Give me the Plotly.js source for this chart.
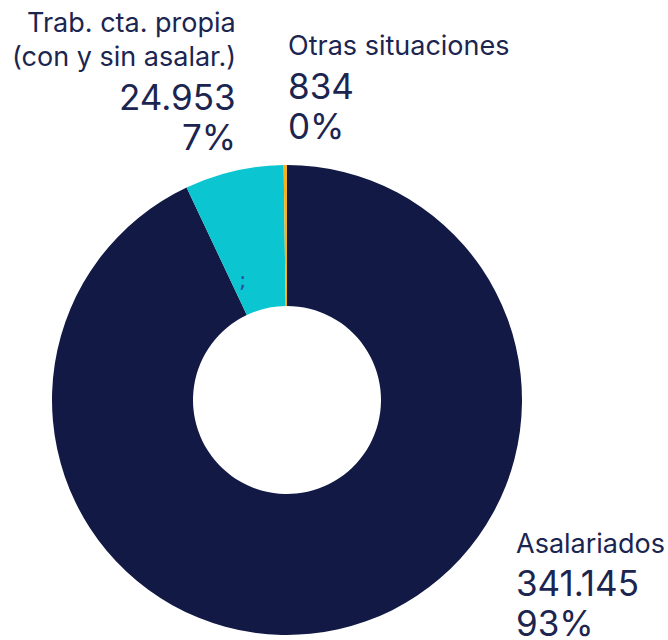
<!DOCTYPE html>
<html><head><meta charset="utf-8">
<script src="https://cdn.plot.ly/plotly-3.0.1.min.js"></script>
<style>html,body{margin:0;padding:0;background:#fff}#c{width:668px;height:640px}</style>
</head><body><div id="c"></div>
<script>
const categories = ["Asalariados", "Trab. cta. propia\n(con y sin asalar.)", "Otras situaciones"];
const values = [341145, 24953, 834];
const valueLabels = ["341.145", "24.953", "834"];
const percentLabels = ["93%", "7%", "0%"];
const colors = ["#111944", "#0bc5d1", "#f4b223"];

const W = 668, H = 640;
const px = x => x / W, py = y => 1 - y / H;
const FONT = "Inter, 'Noto Sans', sans-serif";
const TXT = "#1b2550";

const annotations = [];
function line(text, x, y, anchor, size) {
  annotations.push({text, x: px(x), y: py(y), xref: "paper", yref: "paper",
    xanchor: anchor, yanchor: "middle", showarrow: false,
    font: {family: FONT, size, color: TXT}});
}
const LS = 27, NS = 35;
// Trab. cta. propia block (right-aligned)
const trabLines = categories[1].split("\n");
line(trabLines[0], 238, 23, "right", LS);
line(trabLines[1], 238, 56, "right", LS);
line(valueLabels[1], 238, 97, "right", NS);
line(percentLabels[1], 238, 137, "right", NS);
// Otras
line(categories[2], 286, 45, "left", LS);
line(valueLabels[2], 286, 86, "left", NS);
line(percentLabels[2], 286, 126, "left", NS);
// Asalariados
line(categories[0], 514, 543, "left", LS);
line(valueLabels[0], 514, 583, "left", NS);
line(percentLabels[0], 514, 623, "left", NS);
// small artifact in cyan slice
annotations.push({text: ";", x: px(242), y: py(280), xref: "paper", yref: "paper",
  showarrow: false, font: {family: "'DejaVu Sans', sans-serif", size: 22, color: "#2a4aa8"}});

const cx = 287, cy = 400, R = 235;
Plotly.newPlot("c", [{
  type: "pie",
  labels: categories,
  values: values,
  sort: false,
  direction: "clockwise",
  rotation: 0,
  hole: 0.4,
  textinfo: "none",
  marker: {colors: colors, line: {width: 0}},
  domain: {x: [px(cx - R), px(cx + R)], y: [py(cy + R), py(cy - R)]},
  showlegend: false
}], {
  width: W, height: H,
  margin: {l: 0, r: 0, t: 0, b: 0},
  paper_bgcolor: "#fff",
  showlegend: false,
  annotations
}, {displayModeBar: false, staticPlot: true});
</script></body></html>
